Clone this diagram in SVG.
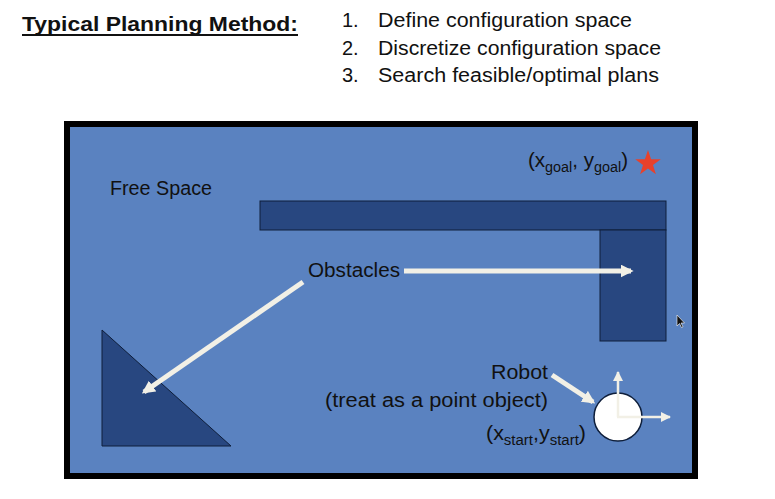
<svg xmlns="http://www.w3.org/2000/svg" width="775" height="499" viewBox="0 0 775 499">
<defs>
<style>
.t{font-family:"Liberation Sans","Open Sans",sans-serif;fill:#111;}
.obs{fill:#284780;stroke:#0E1E3A;stroke-width:1;}
.arr{stroke:#F2F0E6;stroke-width:5;fill:none;}
.ax{stroke:#F2F0E6;stroke-width:2.5;fill:none;}
</style>
<marker id="ah" viewBox="0 0 10 10" refX="8" refY="5" markerWidth="2.6" markerHeight="2.6" orient="auto" markerUnits="strokeWidth">
<path d="M0,0 L10,5 L0,10 z" fill="#F2F0E6"/>
</marker>
<marker id="ah2" viewBox="0 0 10 10" refX="9" refY="5" markerWidth="4" markerHeight="4" orient="auto" markerUnits="strokeWidth">
<path d="M0,0 L10,5 L0,10 z" fill="#F2F0E6"/>
</marker>
</defs>
<rect width="775" height="499" fill="#FFFFFF"/>

<g id="title">
<text class="t" x="22" y="31" font-size="21" font-weight="bold" textLength="276" lengthAdjust="spacingAndGlyphs">Typical Planning Method:</text>
<rect x="22" y="34" width="276" height="2" fill="#111"/>
</g>
<g id="steps" class="t" font-size="20">
<text x="342" y="27">1.</text><text x="378" y="27" textLength="254" lengthAdjust="spacingAndGlyphs">Define configuration space</text>
<text x="342" y="55">2.</text><text x="378" y="55" textLength="283" lengthAdjust="spacingAndGlyphs">Discretize configuration space</text>
<text x="342" y="82">3.</text><text x="378" y="82" textLength="281" lengthAdjust="spacingAndGlyphs">Search feasible/optimal plans</text>
</g>

<g id="space">
<rect x="67" y="124" width="628" height="352" fill="#5A82C0" stroke="#000" stroke-width="6"/>
<text class="t" x="110" y="195" font-size="20" textLength="102" lengthAdjust="spacingAndGlyphs">Free Space</text>
</g>

<g id="obstacle-top"><rect class="obs" x="260" y="201" width="406" height="29"/></g>
<g id="obstacle-right"><rect class="obs" x="600" y="230" width="66" height="111"/></g>
<g id="obstacle-triangle"><polygon class="obs" points="102,330 102,446 231,446"/></g>

<g id="goal">
<text class="t" x="528" y="167" font-size="20" textLength="100" lengthAdjust="spacingAndGlyphs">(x<tspan font-size="14" dy="5">goal</tspan><tspan dy="-5">, y</tspan><tspan font-size="14" dy="5">goal</tspan><tspan dy="-5">)</tspan></text>
<polygon fill="#E8412B" points="648,150 651.1,159.2 660.8,159.2 653,165 655.9,174.3 648,168.6 640.1,174.3 643,165 635.2,159.2 644.9,159.2"/>
</g>

<g id="obstacles-label">
<text class="t" x="308" y="277" font-size="20" textLength="92" lengthAdjust="spacingAndGlyphs">Obstacles</text>
</g>

<g id="robot">
<circle cx="618" cy="417" r="24" fill="#FFFFFF" stroke="#0E1E3A" stroke-width="1.5"/>
<text class="t" x="491" y="379" font-size="20" textLength="57" lengthAdjust="spacingAndGlyphs">Robot</text>
<text class="t" x="325" y="407" font-size="20" textLength="223" lengthAdjust="spacingAndGlyphs">(treat as a point object)</text>
<text class="t" x="486" y="440" font-size="20" textLength="100" lengthAdjust="spacingAndGlyphs">(x<tspan font-size="14" dy="5">start</tspan><tspan dy="-5">,y</tspan><tspan font-size="14" dy="5">start</tspan><tspan dy="-5">)</tspan></text>
</g>

<g id="connectors">
<line class="arr" x1="404" y1="271" x2="631" y2="271" marker-end="url(#ah)"/>
<line class="arr" x1="303" y1="282" x2="144" y2="392" marker-end="url(#ah)"/>
<line class="arr" x1="552" y1="375" x2="593" y2="402" marker-end="url(#ah)"/>
<line class="ax" x1="618" y1="417" x2="618" y2="372" marker-end="url(#ah2)"/>
<line class="ax" x1="617" y1="417" x2="670" y2="417" marker-end="url(#ah2)"/>
</g>

<g id="cursor">
<path d="M677,315 L677,326 L679.5,323.5 L681.5,327.5 L683,326.8 L681,323 L684.5,323 Z" fill="#111" stroke="#fff" stroke-width="0.6"/>
</g>
</svg>
